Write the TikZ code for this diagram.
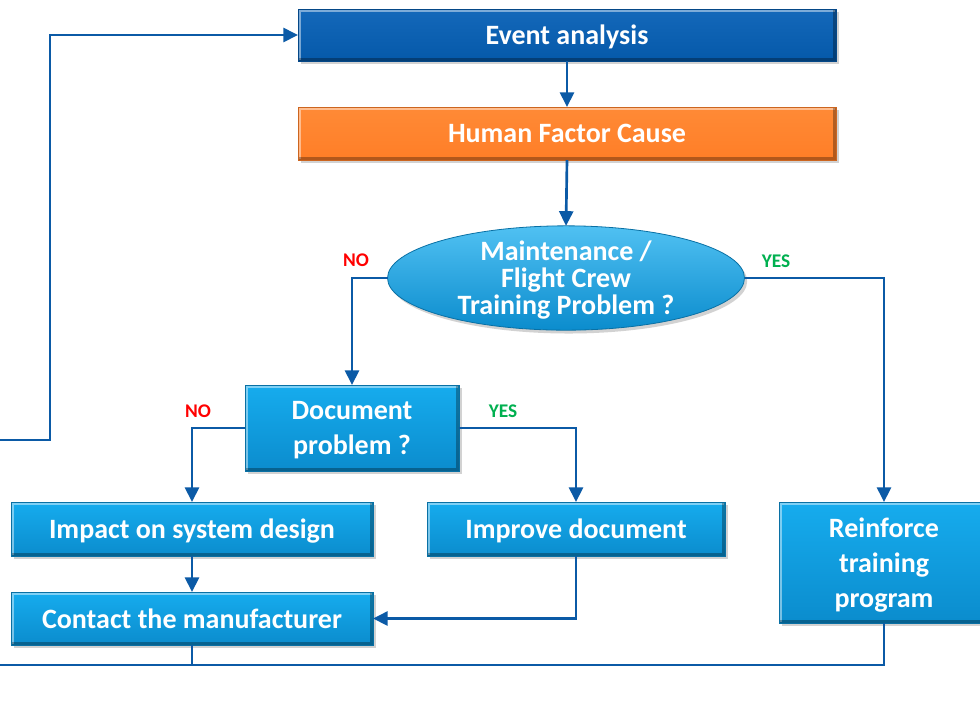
\documentclass[tikz,border=0pt]{standalone}
\usepackage{fontspec}
\setmainfont{Carlito}
\usetikzlibrary{arrows.meta,shapes.geometric,shadows}
\definecolor{lineblue}{HTML}{0B5AA6}
\definecolor{darkbox}{HTML}{0559A9}
\definecolor{darkboxtop}{HTML}{1468BA}
\definecolor{orangebox}{HTML}{FF7E27}
\definecolor{orangetop}{HTML}{FF8A36}
\definecolor{lighttop}{HTML}{16ACEE}
\definecolor{lightbot}{HTML}{0B8CCD}
\definecolor{noRed}{HTML}{FF0000}
\definecolor{yesGreen}{HTML}{00B050}
\tikzset{
  bevel/.style={path picture={
      \draw[white, opacity=0.45, line width=2pt]
        ([xshift=1pt,yshift=1pt]path picture bounding box.south west) --
        ([xshift=1pt,yshift=-1pt]path picture bounding box.north west) --
        ([xshift=-1pt,yshift=-1pt]path picture bounding box.north east);
      \draw[black, opacity=0.3, line width=2pt]
        ([xshift=-1pt,yshift=-1pt]path picture bounding box.north east) --
        ([xshift=-1pt,yshift=1pt]path picture bounding box.south east) --
        ([xshift=1pt,yshift=1pt]path picture bounding box.south west);
  }},
  boxbase/.style={rectangle, inner sep=0pt, outer sep=0pt, align=center,
    text=white, font=\bfseries\fontsize{21}{26}\selectfont, bevel, text depth=0pt,
    drop shadow={shadow xshift=2pt, shadow yshift=-2.5pt, opacity=0.35}},
  lightbox/.style={boxbase, top color=lighttop, bottom color=lightbot, draw=lightbot!80!black, line width=0.6pt},
  darkboxst/.style={boxbase, top color=darkboxtop, bottom color=darkbox, draw=darkbox!80!black, line width=0.6pt},
  orangeboxst/.style={boxbase, top color=orangetop, bottom color=orangebox, draw=orangebox!80!black, line width=0.6pt},
  decision/.style={ellipse, inner sep=0pt, outer sep=0pt, align=center, text=white,
    font=\bfseries\fontsize{21}{20.3}\selectfont, text depth=0pt,
    top color=lighttop!75!white, bottom color=lightbot, draw=lightbot!80!black, line width=0.6pt,
    drop shadow={shadow xshift=2pt, shadow yshift=-2.5pt, opacity=0.35}},
  conn/.style={draw=lineblue, line width=2pt, -{Triangle[length=11pt,width=10.5pt]}},
  plain/.style={draw=lineblue, line width=2pt},
  lab/.style={font=\bfseries\fontsize{14.5}{16}\selectfont},
}
\begin{document}
\begin{tikzpicture}[x=0.75pt,y=-0.75pt]
\useasboundingbox (0,0) rectangle (980,708);
\clip (0,0) rectangle (980,708);
\fill[white] (0,0) rectangle (980,708);

\node[darkboxst, minimum width=403.5pt, minimum height=39pt] (ea) at (567,35) {Event analysis};
\node[orangeboxst, minimum width=403.5pt, minimum height=39.75pt] (hf) at (567,133.5) {Human Factor Cause};
\node[decision, minimum width=267.75pt, minimum height=78pt] (el) at (566,278) {Maintenance /\\Flight Crew\\Training Problem ?};
\node[lightbox, minimum width=160.5pt, minimum height=64.5pt] (doc) at (352,428) {Document\\problem ?};
\node[lightbox, minimum width=271.5pt, minimum height=40.5pt] (imp) at (192,529) {Impact on system design};
\node[lightbox, minimum width=223.5pt, minimum height=40.5pt] (impr) at (576,529) {Improve document};
\node[lightbox, minimum width=157.5pt, minimum height=90.75pt] (rt) at (884,562.5) {Reinforce\\training\\program};
\node[lightbox, minimum width=271.5pt, minimum height=39.75pt] (con) at (192,618.5) {Contact the manufacturer};

\node[lab, text=noRed] (no1) at (356,260) {NO};
\node[lab, text=yesGreen] (yes1) at (776,261) {YES};
\node[lab, text=noRed] (no2) at (198,411) {NO};
\node[lab, text=yesGreen] (yes2) at (503,411) {YES};

\coordinate (lt) at (-20,440);
\coordinate (lk) at (50,35);
\coordinate (jb) at (192,665);
\coordinate (lb) at (-20,665);

\draw[conn] (ea.south) -- (hf.north);
\draw[conn] (hf.south) -- (el.north);
\draw[conn] (el.west) -| (doc.north);
\draw[conn] (el.east) -| (rt.north);
\draw[conn] (doc.west) -| (imp.north);
\draw[conn] (doc.east) -| (impr.north);
\draw[conn] (imp.south) -- (con.north);
\draw[conn] (impr.south) |- (con.east);
\draw[plain] (rt.south) |- (lb);
\draw[plain] (con.south) -- (jb);
\draw[conn] (lt) -| (lk) -- (ea.west);
\end{tikzpicture}
\end{document}
